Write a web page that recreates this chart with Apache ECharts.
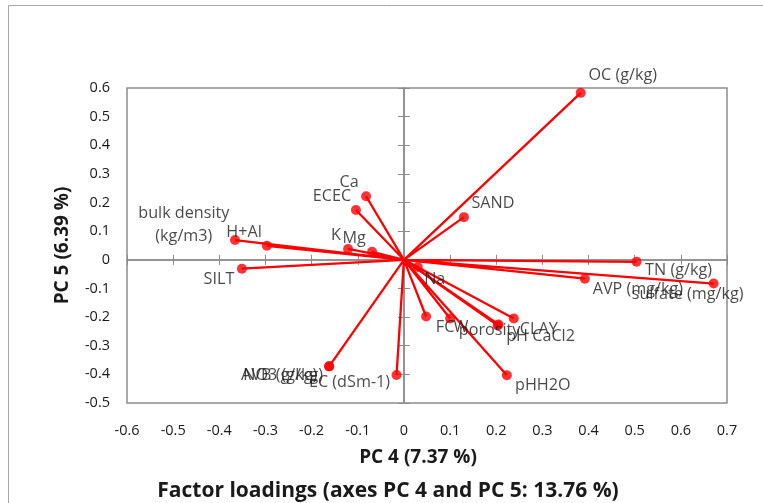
<!DOCTYPE html>
<html>
<head>
<meta charset="utf-8">
<script src="https://cdn.jsdelivr.net/npm/echarts@6/dist/echarts.min.js"></script>
<style>
html,body{margin:0;padding:0;background:#fff;}
#chart{width:763px;height:503px;}
</style>
</head>
<body>
<div id="chart"></div>
<script>
// ---- data ----
var variables = ['OC (g/kg)','SAND','Ca','ECEC','H+Al','bulk density\n(kg/m3)','K','Mg','SILT',
  'TN (g/kg)','AVP (mg/kg)','sulfate (mg/kg)','Na','FC','W','porosity','CLAY','pH CaCl2','pHH2O',
  'EC (dSm-1)','AVB (g/kg)','NO3 (g/kg)'];
var pc4 = [0.383,0.130,-0.082,-0.104,-0.366,-0.297,-0.121,-0.069,-0.351,
  0.504,0.392,0.671,0.030,0.048,0.100,0.203,0.238,0.205,0.223,
  -0.016,-0.162,-0.162];
var pc5 = [0.583,0.149,0.222,0.174,0.069,0.049,0.038,0.028,-0.031,
  -0.007,-0.066,-0.083,-0.025,-0.198,-0.205,-0.229,-0.205,-0.226,-0.403,
  -0.402,-0.372,-0.372];
var xTicks = {min:-0.6, max:0.7, step:0.1};
var yTicks = {min:-0.5, max:0.6, step:0.1};

// ---- label placement (offsets of label centre from point, px) ----
var labelOffsets = {
  'OC (g/kg)':[42,-17], 'SAND':[29,-14], 'Ca':[-17,-14], 'ECEC':[-24,-14], 'H+Al':[9,-8],
  'bulk density\n(kg/m3)':[-83,-21], 'K':[-12,-14], 'Mg':[-18,-13], 'SILT':[-23,11],
  'TN (g/kg)':[42,9], 'AVP (mg/kg)':[53,11], 'sulfate (mg/kg)':[-26,11], 'Na':[17,12],
  'FC':[19,11], 'W':[11,9], 'porosity':[-8,5], 'CLAY':[25,11], 'pH CaCl2':[42,12],
  'pHH2O':[36,10], 'EC (dSm-1)':[-47,7], 'AVB (g/kg)':[-50,9], 'NO3 (g/kg)':[-46,9]
};

var FONT = '"Open Sans", sans-serif';
var TXT = '#1a1a1a';
var AXC = '#8c8c8c';

var lineData = [];
var pointData = [];
for (var i = 0; i < variables.length; i++) {
  lineData.push([0,0]);
  lineData.push([pc4[i], pc5[i]]);
  lineData.push([0,0]);
  var off = labelOffsets[variables[i]] || [0,0];
  pointData.push({
    name: variables[i],
    value: [pc4[i], pc5[i]],
    label: {offset: off}
  });
}

function valAxis(base, extra){
  var o = {type:'value', min:base.min, max:base.max, interval:base.step, splitLine:{show:false}};
  for (var k in extra) o[k] = extra[k];
  return o;
}

var chart = echarts.init(document.getElementById('chart'), null, {renderer:'canvas'});
chart.setOption({
  animation:false,
  backgroundColor:'#fff',
  textStyle:{fontFamily:FONT},
  title:{
    text:'Factor loadings (axes PC 4 and PC 5: 13.76 %)',
    left:383, textAlign:'center', top:476,
    textStyle:{fontFamily:FONT, fontSize:21, fontWeight:'bold', color:TXT}
  },
  grid:{left:127, right:36, top:88, bottom:100, show:true, borderColor:AXC, borderWidth:1.5, containLabel:false},
  graphic:[{
    type:'rect', shape:{x:8.5, y:5.5, width:800, height:600},
    style:{fill:null, stroke:'#a6a6a6', lineWidth:1}, silent:true, z:-10
  }],
  xAxis:[
    valAxis(xTicks,{position:'bottom', axisLine:{show:false,onZero:false}, axisTick:{show:false},
      axisLabel:{margin:20, fontSize:14.5, color:TXT, fontFamily:FONT},
      name:'PC 4 (7.37 %)', nameLocation:'middle', nameGap:45, nameMoveOverlap:false,
      nameTextStyle:{fontSize:19, fontWeight:'bold', color:TXT, fontFamily:FONT, padding:[0,18,0,0]}}),
    valAxis(xTicks,{position:'bottom', axisLine:{show:true,onZero:true,lineStyle:{color:AXC,width:1.5}},
      axisTick:{show:true,inside:false,length:5,lineStyle:{color:AXC,width:1}}, axisLabel:{show:false}}),
    valAxis(xTicks,{position:'top', axisLine:{show:true,onZero:true,lineStyle:{color:AXC,width:1.5}},
      axisTick:{show:true,inside:false,length:5,lineStyle:{color:AXC,width:1}}, axisLabel:{show:false}})
  ],
  yAxis:[
    valAxis(yTicks,{position:'left', axisLine:{show:false,onZero:false}, axisTick:{show:false},
      axisLabel:{margin:17, fontSize:14.5, color:TXT, fontFamily:FONT},
      name:'PC 5 (6.39 %)', nameLocation:'middle', nameGap:55, nameRotate:90, nameMoveOverlap:false,
      nameTextStyle:{fontSize:19, fontWeight:'bold', color:TXT, fontFamily:FONT}}),
    valAxis(yTicks,{position:'left', axisLine:{show:true,onZero:true,lineStyle:{color:AXC,width:1.5}},
      axisTick:{show:true,inside:false,length:6,lineStyle:{color:AXC,width:1}}, axisLabel:{show:false}}),
    valAxis(yTicks,{position:'right', axisLine:{show:true,onZero:true,lineStyle:{color:AXC,width:1.5}},
      axisTick:{show:true,inside:false,length:6,lineStyle:{color:AXC,width:1}}, axisLabel:{show:false}})
  ],
  series:[
    {type:'line', xAxisIndex:0, yAxisIndex:0, data:lineData, showSymbol:false, symbol:'none',
     lineStyle:{color:'#ff0000', width:2.3}, z:3, silent:true},
    {type:'scatter', xAxisIndex:0, yAxisIndex:0, data:pointData, symbolSize:10,
     itemStyle:{color:'#ff0000'}, z:4,
     label:{show:true, position:'inside', formatter:'{b}', fontSize:16.2, color:TXT, fontFamily:FONT,
       align:'center', verticalAlign:'middle', lineHeight:23}}
  ]
});
</script>
</body>
</html>
